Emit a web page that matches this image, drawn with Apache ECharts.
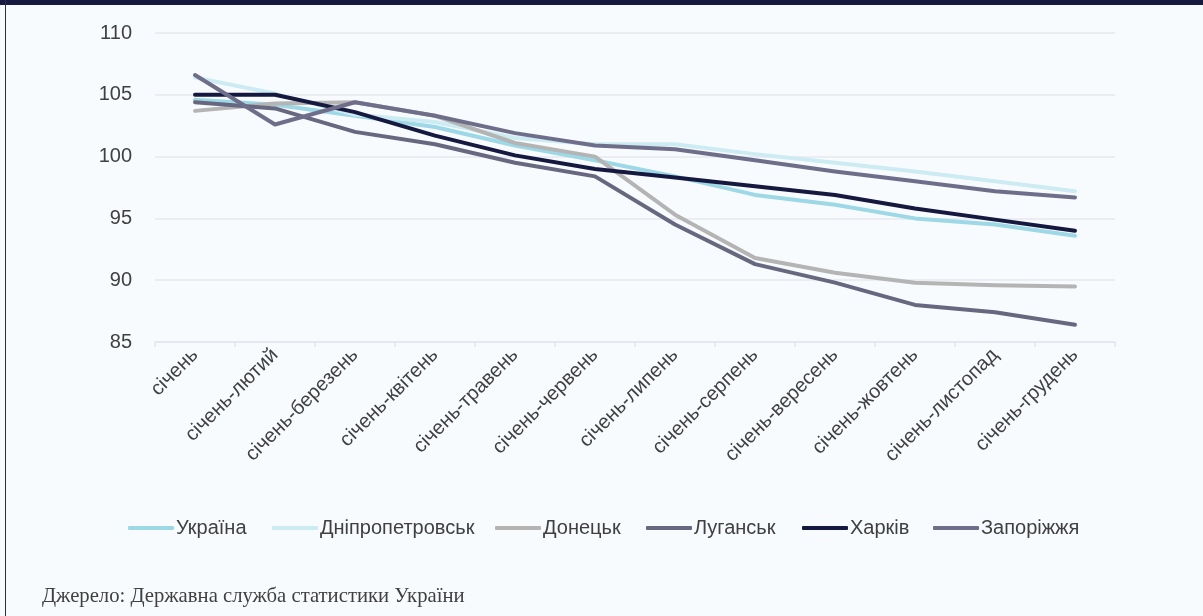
<!DOCTYPE html>
<html>
<head>
<meta charset="utf-8">
<script src="https://cdn.jsdelivr.net/npm/echarts@6/dist/echarts.min.js"></script>
<style>
html,body{margin:0;padding:0;background:#f8fbfd;}
#chart{width:1203px;height:616px;}
</style>
</head>
<body>
<div id="chart"></div>
<script>
const categories = ['січень','січень-лютий','січень-березень','січень-квітень','січень-травень','січень-червень','січень-липень','січень-серпень','січень-вересень','січень-жовтень','січень-листопад','січень-грудень'];
const ukraine      = [104.6, 104.2, 103.3, 102.4, 100.9, 99.7, 98.4, 96.9, 96.1, 95.0, 94.5, 93.6];
const dnipro       = [106.4, 105.1, 103.4, 102.8, 101.5, 101.0, 101.0, 100.2, 99.5, 98.8, 98.0, 97.2];
const donetsk      = [103.7, 104.3, 104.4, 103.3, 101.1, 100.0, 95.3, 91.8, 90.6, 89.8, 89.6, 89.5];
const luhansk      = [104.4, 103.9, 102.0, 101.0, 99.5, 98.4, 94.5, 91.3, 89.8, 88.0, 87.4, 86.4];
const kharkiv      = [105.0, 105.0, 103.6, 101.7, 100.1, 99.0, 98.3, 97.6, 96.9, 95.8, 94.9, 94.0];
const zaporizhzhia = [106.6, 102.6, 104.4, 103.3, 101.9, 100.9, 100.6, 99.7, 98.8, 98.0, 97.2, 96.7];
const yTicks = {min: 85, max: 110, interval: 5};
const seriesNames = ['Україна','Дніпропетровськ','Донецьк','Луганськ','Харків','Запоріжжя'];
const seriesData = [ukraine, dnipro, donetsk, luhansk, kharkiv, zaporizhzhia];
const colors = ['#9dd8e6','#cdebf3','#b4b4b4','#67677f','#15183f','#6e6e8a'];
const sourceText = 'Джерело: Державна служба статистики України';
const legendLefts = [123, 267, 490, 641, 797, 928];

const font = 'Liberation Sans, Arial, sans-serif';
const chart = echarts.init(document.getElementById('chart'), null, {renderer:'canvas'});
chart.setOption({
  backgroundColor: '#f8fbfd',
  animation: false,
  color: colors,
  grid: {left: 155, right: 88, top: 33, bottom: 274, containLabel: false},
  xAxis: {
    type: 'category',
    data: categories,
    boundaryGap: true,
    axisLine: {lineStyle: {color: '#e4e6ed', width: 1.5}},
    axisTick: {show: true, length: 5, lineStyle: {color: '#e4e6ed', width: 1.5}},
    axisLabel: {rotate: 45, margin: 10, color: '#404040', fontSize: 20, fontFamily: font, interval: 0}
  },
  yAxis: {
    type: 'value',
    min: yTicks.min, max: yTicks.max, interval: yTicks.interval,
    axisLine: {show: false},
    axisTick: {show: false},
    axisLabel: {color: '#404040', fontSize: 20, fontFamily: font, margin: 23},
    splitLine: {lineStyle: {color: '#e7e9ef', width: 1.5}}
  },
  legend: seriesNames.map((n, i) => ({
    top: 513,
    left: legendLefts[i],
    itemWidth: 46,
    itemHeight: 4,
    icon: 'roundRect',
    textStyle: {color: '#404040', fontSize: 20, fontFamily: font, padding: [0,0,0,-3]},
    data: [n]
  })),
  title: {
    text: sourceText,
    left: 37, top: 581,
    textStyle: {fontFamily: 'Liberation Serif, DejaVu Serif, serif', fontWeight: 'normal', fontSize: 20.7, color: '#404040'}
  },
  graphic: [
    {type: 'rect', left: 0, top: 0, shape: {width: 1203, height: 5}, style: {fill: '#161a40'}, z: 100},
    {type: 'rect', left: 5, top: 0, shape: {width: 1, height: 616}, style: {fill: '#2a2d52'}, z: 100}
  ],
  series: seriesNames.map((n, i) => ({
    name: n,
    type: 'line',
    data: seriesData[i],
    symbol: 'none',
    showSymbol: false,
    lineStyle: {width: 4, color: colors[i], cap: 'round', join: 'round'},
    itemStyle: {color: colors[i]}
  }))
});
</script>
</body>
</html>
